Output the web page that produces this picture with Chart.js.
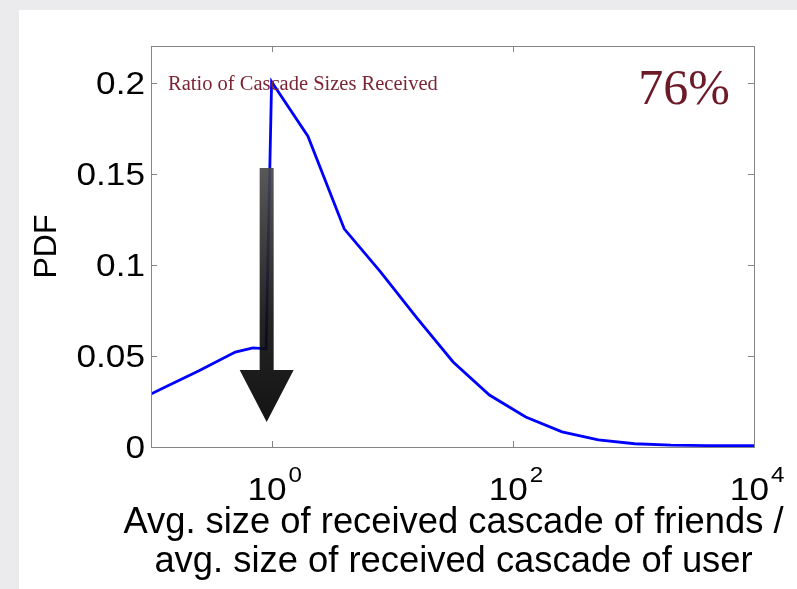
<!DOCTYPE html>
<html>
<head>
<meta charset="utf-8">
<script src="https://cdn.jsdelivr.net/npm/chart.js@4.4.0/dist/chart.umd.min.js"></script>
<style>
  html, body { margin: 0; padding: 0; background: #ebebed; overflow: hidden; }
  #sheet { position: absolute; left: 19px; top: 10px; right: 0; bottom: 0; background: #fff; }
  #wrap { position: absolute; left: 0; top: 0; width: 797px; height: 589px; }
</style>
</head>
<body>
<div id="sheet"></div>
<div id="wrap"><canvas id="myChart"></canvas></div>
<script>
// ratio of friends' avg received cascade size to the user's own
const ratio = [0.0625, 0.125, 0.25, 0.5, 0.7, 0.9, 1, 2, 4, 8, 16, 32, 64, 128, 256, 512, 1024, 2048, 4096, 8192, 16384];
const pdf   = [0.0225, 0.0323, 0.0419, 0.0522, 0.0545, 0.054, 0.201, 0.171, 0.120, 0.0963, 0.071, 0.0468, 0.0286, 0.0165, 0.0083, 0.0039, 0.0018, 0.001, 0.0008, 0.0007, 0.0007];

const xTicks = [1, 100, 10000];
const xTickExp = ['0', '2', '4'];
const yTicks = [0, 0.05, 0.1, 0.15, 0.2];
const yTickLabels = ['0', '0.05', '0.1', '0.15', '0.2'];
const xTitle = ['Avg. size of received cascade of friends /', 'avg. size of received cascade of user'];

// big down arrow, in data units
const arrow = { x: 0.91, top: 0.1535, neck: 0.0424, tip: 0.0138 };

const SANS = '"Liberation Sans", Arial, Helvetica, sans-serif';
const SERIF = '"Liberation Serif", "Times New Roman", serif';
const WIDE = 1.1; // tick numbers are set a bit wide
Chart.defaults.font.family = SANS;

function wideText(ctx, text, x, y, align, sx) {
  ctx.save();
  ctx.translate(x, y);
  ctx.scale(sx, 1);
  ctx.textAlign = align;
  ctx.fillText(text, 0, 0);
  ctx.restore();
}

const matlabFrame = {
  id: 'matlabFrame',
  afterDraw(chart) {
    const ctx = chart.ctx;
    const {left, right, top, bottom} = chart.chartArea;
    const xs = chart.scales.x, ys = chart.scales.y;
    ctx.save();

    // arrow over the curve
    const ax = xs.getPixelForValue(arrow.x);
    const aTop = ys.getPixelForValue(arrow.top);
    const aNeck = ys.getPixelForValue(arrow.neck);
    const aTip = ys.getPixelForValue(arrow.tip);
    const g = ctx.createLinearGradient(0, aTop, 0, aTip);
    g.addColorStop(0, '#4a4a4a');
    g.addColorStop(0.6, '#111');
    g.addColorStop(1, '#000');
    ctx.globalAlpha = 0.92;
    ctx.fillStyle = g;
    ctx.beginPath();
    ctx.moveTo(ax - 7, aTop);
    ctx.lineTo(ax + 7, aTop);
    ctx.lineTo(ax + 7, aNeck);
    ctx.lineTo(ax + 27, aNeck);
    ctx.lineTo(ax, aTip);
    ctx.lineTo(ax - 27, aNeck);
    ctx.lineTo(ax - 7, aNeck);
    ctx.closePath();
    ctx.fill();
    ctx.globalAlpha = 1;

    // axes box
    ctx.strokeStyle = '#858585';
    ctx.lineWidth = 1;
    ctx.strokeRect(left + 0.5, top + 0.5, right - left, bottom - top);

    // inward tick marks
    ctx.beginPath();
    xTicks.forEach(v => {
      const px = Math.round(xs.getPixelForValue(v)) + 0.5;
      ctx.moveTo(px, bottom); ctx.lineTo(px, bottom - 6);
      ctx.moveTo(px, top); ctx.lineTo(px, top + 6);
    });
    yTicks.forEach(v => {
      const py = Math.round(ys.getPixelForValue(v)) + 0.5;
      ctx.moveTo(left, py); ctx.lineTo(left + 6, py);
      ctx.moveTo(right, py); ctx.lineTo(right - 6, py);
    });
    ctx.stroke();

    ctx.fillStyle = '#000';

    // y tick labels
    ctx.font = '32px ' + SANS;
    ctx.textBaseline = 'middle';
    yTicks.forEach((v, i) => {
      wideText(ctx, yTickLabels[i], left - 6, ys.getPixelForValue(v) + 2, 'right', WIDE);
    });

    // x tick labels: 10 with superscript exponent
    ctx.textBaseline = 'alphabetic';
    xTicks.forEach((v, i) => {
      const px = xs.getPixelForValue(v);
      ctx.font = '32px ' + SANS;
      wideText(ctx, '10', px + 15, bottom + 53, 'right', WIDE);
      ctx.font = '22px ' + SANS;
      wideText(ctx, xTickExp[i], px + 17, bottom + 35, 'left', WIDE);
    });

    // x axis title, two lines
    ctx.font = '36px ' + SANS;
    const cx = (left + right) / 2 + 1;
    xTitle.forEach((line, i) => {
      wideText(ctx, line, cx, bottom + 86 + i * 39, 'center', 1.01);
    });

    // labels inside the axes
    ctx.fillStyle = '#7b2535';
    ctx.font = '20.5px ' + SERIF;
    ctx.textAlign = 'left';
    ctx.fillText('Ratio of Cascade Sizes Received', left + 17, top + 44);
    ctx.fillStyle = '#6d1a28';
    ctx.font = '50px ' + SERIF;
    ctx.textAlign = 'right';
    ctx.fillText('76%', right - 24, top + 58);
    ctx.restore();
  }
};

const data = {
  datasets: [{
    data: ratio.map((r, i) => ({x: r, y: pdf[i]})),
    borderColor: '#0000ff',
    borderWidth: 2.8,
    pointRadius: 0,
    tension: 0,
    fill: false
  }]
};

const config = {
  type: 'line',
  data: data,
  options: {
    responsive: true,
    maintainAspectRatio: false,
    animation: false,
    layout: { padding: { top: 46, right: 43, left: 0, bottom: 0 } },
    plugins: { legend: { display: false }, tooltip: { enabled: false } },
    scales: {
      x: {
        type: 'logarithmic',
        min: 0.1,
        max: 10000,
        afterBuildTicks: s => { s.ticks = xTicks.map(v => ({value: v})); },
        afterFit: s => { s.height = 142; },
        grid: { display: false, drawTicks: false },
        border: { display: false },
        ticks: { display: false },
        title: { display: false }
      },
      y: {
        min: 0,
        max: 0.2206,
        afterBuildTicks: s => { s.ticks = yTicks.map(v => ({value: v})); },
        afterFit: s => { s.width = 151; },
        grid: { display: false, drawTicks: false },
        border: { display: false },
        ticks: { display: false },
        title: {
          display: true,
          text: 'PDF',
          color: '#000',
          font: { size: 32 },
          padding: { top: 28, bottom: 0 }
        }
      }
    }
  },
  plugins: [matlabFrame]
};

const myChart = new Chart(document.getElementById('myChart'), config);
</script>
</body>
</html>
